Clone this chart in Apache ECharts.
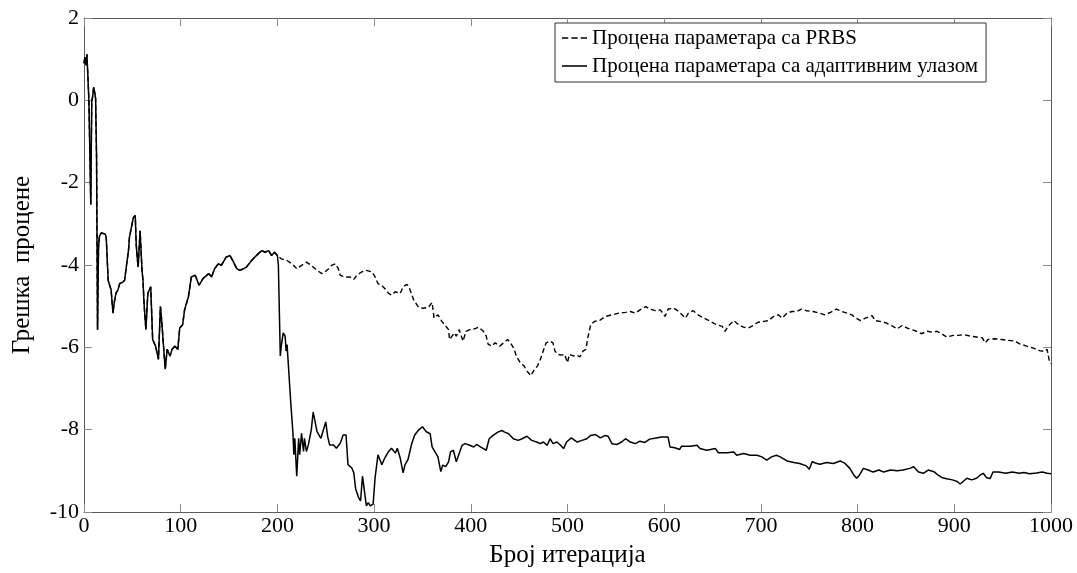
<!DOCTYPE html>
<html>
<head>
<meta charset="utf-8">
<script src="https://cdn.jsdelivr.net/npm/echarts@6/dist/echarts.min.js"></script>
<style>
  html, body { margin: 0; padding: 0; background: #fff; }
  #chart { width: 1077px; height: 573px; }
</style>
</head>
<body>
<div id="chart"></div>
<script>
// Estimation error versus iteration. Both estimators share the first 200 iterations.
const sharedSegment = [
  [0,0.9],[1,1.05],[2,0.85],[3,1.12],[4,0.6],[5,0.04],[6,-1.2],[7,-2.53],[8,-0.04],[9,0.1],
  [10,0.32],[11,0.2],[12,0.04],[13,-1.41],[14,-5.57],[15,-3.57],[16,-3.3],[18,-3.22],[20,-3.2],
  [22,-3.25],[23,-3.33],[25,-4.37],[27,-4.53],[28,-4.6],[30,-5.17],[31,-4.95],[33,-4.69],
  [35,-4.61],[37,-4.45],[40,-4.42],[42,-4.37],[44,-4.0],[46,-3.65],[47,-3.33],[49,-3.37],
  [51,-2.85],[53,-2.8],[54,-3.5],[55,-3.81],[56,-4.05],[58,-3.17],[60,-4.13],[61,-4.37],
  [62,-4.9],[64,-5.57],[66,-4.69],[69,-4.53],[71,-5.81],[74,-5.97],[77,-6.29],[79,-5.01],
  [80,-5.25],[84,-6.53],[86,-6.05],[89,-6.21],[91,-6.05],[94,-5.97],[97,-6.05],[99,-5.53],
  [102,-5.45],[104,-5.09],[108,-4.77],[111,-4.29],[115,-4.25],[119,-4.49],[123,-4.33],
  [125,-4.29],[129,-4.21],[132,-4.29],[135,-4.09],[139,-3.97],[142,-4.01],[147,-3.81],
  [151,-3.77],[154,-3.9],[158,-4.09],[161,-4.13],[165,-4.09],[168,-4.05],[172,-3.93],
  [175,-3.85],[180,-3.73],[184,-3.65],[187,-3.69],[191,-3.65],[194,-3.77],[197,-3.69],[200,-3.77]
];

// PRBS excitation, iterations 201..1000
const prbsSegment = [
  [204,-3.85],[210,-3.89],[215,-3.97],[220,-4.09],[225,-4.01],[230,-3.93],[235,-4.01],[241,-4.13],
  [246,-4.21],[249,-4.17],[253,-4.09],[256,-4.01],[260,-3.97],[263,-4.09],[265,-4.25],[270,-4.29],
  [275,-4.29],[279,-4.35],[282,-4.25],[287,-4.17],[292,-4.13],[298,-4.17],[301,-4.29],[304,-4.45],
  [308,-4.5],[311,-4.57],[315,-4.69],[318,-4.73],[322,-4.65],[327,-4.69],[330,-4.53],[334,-4.47],
  [336,-4.53],[341,-4.85],[346,-5.03],[351,-5.05],[356,-5.03],[360,-4.91],[362,-5.29],[366,-5.21],
  [370,-5.37],[373,-5.45],[377,-5.57],[378,-5.81],[383,-5.65],[385,-5.73],[388,-5.57],[392,-5.85],
  [395,-5.61],[399,-5.57],[404,-5.55],[408,-5.51],[413,-5.61],[416,-5.73],[418,-5.93],[422,-5.97],
  [425,-5.89],[430,-5.97],[434,-5.89],[438,-5.81],[441,-5.89],[445,-6.05],[447,-6.21],[451,-6.37],
  [455,-6.45],[458,-6.57],[462,-6.69],[465,-6.57],[469,-6.45],[472,-6.29],[476,-6.01],[478,-5.89],
  [482,-5.85],[485,-5.89],[487,-6.09],[490,-6.17],[494,-6.19],[497,-6.17],[500,-6.37],[502,-6.17],
  [506,-6.21],[509,-6.19],[513,-6.23],[516,-6.09],[519,-6.05],[521,-5.77],[524,-5.45],[528,-5.37],
  [533,-5.35],[539,-5.25],[546,-5.21],[553,-5.17],[560,-5.15],[565,-5.13],[570,-5.17],[575,-5.09],
  [581,-5.01],[585,-5.07],[591,-5.11],[596,-5.09],[601,-5.25],[604,-5.07],[610,-5.05],[615,-5.13],
  [622,-5.29],[625,-5.17],[630,-5.11],[635,-5.21],[641,-5.29],[648,-5.37],[654,-5.45],[660,-5.49],
  [663,-5.61],[666,-5.49],[672,-5.35],[677,-5.45],[682,-5.51],[687,-5.53],[692,-5.47],[697,-5.39],
  [703,-5.37],[708,-5.35],[713,-5.25],[718,-5.21],[722,-5.29],[727,-5.17],[732,-5.13],[737,-5.13],
  [742,-5.07],[747,-5.11],[754,-5.13],[761,-5.17],[766,-5.21],[772,-5.15],[778,-5.07],[784,-5.13],
  [789,-5.17],[794,-5.21],[797,-5.27],[803,-5.35],[808,-5.29],[815,-5.23],[818,-5.35],[823,-5.37],
  [830,-5.41],[835,-5.47],[841,-5.55],[846,-5.47],[851,-5.53],[856,-5.57],[861,-5.61],[866,-5.67],
  [872,-5.61],[877,-5.63],[882,-5.61],[887,-5.67],[892,-5.75],[899,-5.71],[904,-5.71],[910,-5.69],
  [917,-5.73],[923,-5.75],[929,-5.77],[932,-5.89],[935,-5.81],[942,-5.79],[949,-5.81],[956,-5.83],
  [963,-5.85],[967,-5.91],[975,-5.97],[982,-6.02],[988,-6.08],[993,-6.1],[996,-6.05],[998,-6.3],[1000,-6.4]
];

// Adaptive input, iterations 201..1000
const adaptiveSegment = [
  [201,-4.0],[203,-6.21],[204,-5.97],[206,-5.65],[208,-5.73],[209,-6.09],[210,-5.93],[212,-5.97],
  [214,-7.41],[216,-8.05],[217,-8.61],[218,-8.21],[220,-9.13],[222,-8.21],[223,-8.61],[225,-8.09],
  [227,-8.53],[228,-8.21],[230,-8.53],[232,-8.37],[234,-8.13],[235,-8.01],[237,-7.57],[239,-7.81],
  [241,-8.05],[245,-8.21],[247,-8.05],[250,-7.81],[252,-8.17],[254,-8.37],[258,-8.37],[261,-8.45],
  [265,-8.33],[268,-8.13],[271,-8.13],[273,-8.85],[277,-8.93],[279,-9.05],[281,-9.45],[284,-9.65],
  [286,-9.73],[288,-9.13],[290,-9.17],[292,-9.85],[294,-9.77],[296,-9.85],[299,-9.81],[301,-9.17],
  [304,-8.61],[308,-8.85],[311,-8.69],[315,-8.53],[318,-8.45],[322,-8.57],[324,-8.45],[327,-8.69],
  [330,-9.05],[332,-8.85],[335,-8.73],[339,-8.33],[342,-8.13],[346,-8.01],[350,-7.93],[354,-8.05],
  [358,-8.1],[360,-8.42],[363,-8.54],[366,-8.66],[369,-9.02],[371,-8.86],[374,-8.9],[377,-8.78],
  [379,-8.54],[382,-8.5],[385,-8.78],[388,-8.58],[391,-8.38],[394,-8.34],[399,-8.38],[403,-8.42],
  [406,-8.36],[410,-8.42],[413,-8.46],[416,-8.5],[419,-8.22],[423,-8.14],[428,-8.06],[432,-8.02],
  [435,-8.06],[439,-8.1],[444,-8.22],[449,-8.26],[453,-8.22],[458,-8.16],[463,-8.26],[468,-8.3],
  [472,-8.34],[475,-8.3],[479,-8.38],[482,-8.22],[485,-8.34],[489,-8.3],[492,-8.36],[496,-8.46],
  [499,-8.3],[504,-8.2],[510,-8.3],[515,-8.26],[520,-8.22],[524,-8.14],[529,-8.12],[534,-8.2],
  [539,-8.14],[542,-8.16],[546,-8.34],[551,-8.36],[556,-8.3],[560,-8.22],[565,-8.3],[570,-8.34],
  [575,-8.28],[580,-8.31],[585,-8.23],[592,-8.2],[597,-8.18],[604,-8.18],[606,-8.42],[611,-8.44],
  [616,-8.48],[618,-8.4],[627,-8.4],[634,-8.38],[637,-8.46],[644,-8.5],[653,-8.46],[656,-8.56],
  [665,-8.56],[672,-8.54],[675,-8.62],[682,-8.58],[689,-8.62],[696,-8.62],[701,-8.66],[706,-8.74],
  [711,-8.66],[716,-8.62],[720,-8.66],[727,-8.76],[734,-8.8],[740,-8.82],[747,-8.88],[750,-8.96],
  [753,-8.78],[758,-8.82],[761,-8.84],[768,-8.8],[775,-8.82],[782,-8.76],[787,-8.82],[792,-8.94],
  [796,-9.1],[799,-9.18],[802,-9.1],[806,-8.94],[811,-8.98],[816,-9.03],[822,-8.98],[827,-9.03],
  [834,-8.98],[841,-9.0],[847,-8.98],[854,-8.94],[858,-8.9],[863,-9.03],[868,-9.06],[873,-8.98],
  [879,-9.02],[883,-9.1],[887,-9.16],[892,-9.19],[898,-9.22],[903,-9.26],[906,-9.32],[910,-9.24],
  [913,-9.18],[918,-9.22],[923,-9.18],[927,-9.1],[930,-9.06],[933,-9.16],[937,-9.19],[940,-9.03],
  [946,-9.03],[953,-9.06],[960,-9.03],[967,-9.06],[972,-9.04],[978,-9.07],[985,-9.05],[991,-9.03],
  [996,-9.06],[1000,-9.07]
];

const seriesNames = ['Процена параметара са PRBS', 'Процена параметара са адаптивним улазом'];
const xTitle = 'Број итерација';
const yTitle = 'Грешка  процене';
const xRange = { min: 0, max: 1000, interval: 100 };
const yRange = { min: -10, max: 2, interval: 2 };

const FONT = "'Liberation Serif', 'Times New Roman', serif";
const axisColor = '#5a5a5a';

// Legend samples: three short dashes for the PRBS line, one bar for the adaptive line
const dashedIcon = 'path://M0,0h6v1.5h-6z M9,0h6v1.5h-6z M18,0h6v1.5h-6z';
const solidIcon = 'path://M0,0h24v1.5h-24z';

function frameAxis(position, showLabels, range) {
  return {
    type: 'value',
    position: position,
    min: range.min, max: range.max, interval: range.interval,
    axisLine: { show: true, onZero: false, lineStyle: { color: axisColor, width: 1 } },
    axisTick: { show: true, inside: true, length: 8, lineStyle: { color: '#8a8a8a', width: 1 } },
    axisLabel: {
      show: showLabels, color: '#000', fontFamily: FONT, fontSize: 22,
      formatter: function (v) { return String(v); }
    },
    splitLine: { show: false }
  };
}

const xBottom = Object.assign(frameAxis('bottom', true, xRange), {
  name: xTitle, nameLocation: 'middle', nameGap: 31,
  nameTextStyle: { color: '#000', fontFamily: FONT, fontSize: 25 }
});
xBottom.axisLabel.margin = 3;
const xTop = frameAxis('top', false, xRange);

const yLeft = Object.assign(frameAxis('left', true, yRange), {
  name: yTitle, nameLocation: 'middle', nameGap: 49, nameRotate: 90,
  nameTextStyle: { color: '#000', fontFamily: FONT, fontSize: 25 }
});
yLeft.axisLabel.margin = 5;
const yRight = frameAxis('right', false, yRange);

const chart = echarts.init(document.getElementById('chart'), null, { renderer: 'canvas' });
chart.setOption({
  animation: false,
  backgroundColor: '#fff',
  grid: { left: 84, right: 26, top: 18, bottom: 56, containLabel: false },
  xAxis: [xBottom, xTop],
  yAxis: [yLeft, yRight],
  legend: {
    data: [
      { name: seriesNames[0], icon: dashedIcon },
      { name: seriesNames[1], icon: solidIcon }
    ],
    orient: 'vertical',
    left: 555, top: 23,
    itemWidth: 25, itemHeight: 2, itemGap: 4,
    padding: [3, 8, 4, 7],
    backgroundColor: '#fff',
    borderColor: '#333', borderWidth: 1, borderRadius: 0,
    textStyle: { color: '#000', fontFamily: FONT, fontSize: 21, lineHeight: 24 }
  },
  series: [
    {
      name: seriesNames[0], type: 'line', xAxisIndex: 0, yAxisIndex: 0,
      data: sharedSegment.concat(prbsSegment),
      symbol: 'none', smooth: false,
      lineStyle: { color: '#000', width: 1.4, type: [5, 3] },
      itemStyle: { color: '#000' }
    },
    {
      name: seriesNames[1], type: 'line', xAxisIndex: 0, yAxisIndex: 0,
      data: sharedSegment.concat(adaptiveSegment),
      symbol: 'none', smooth: false,
      lineStyle: { color: '#000', width: 1.5, type: 'solid' },
      itemStyle: { color: '#000' }
    }
  ]
});
</script>
</body>
</html>
